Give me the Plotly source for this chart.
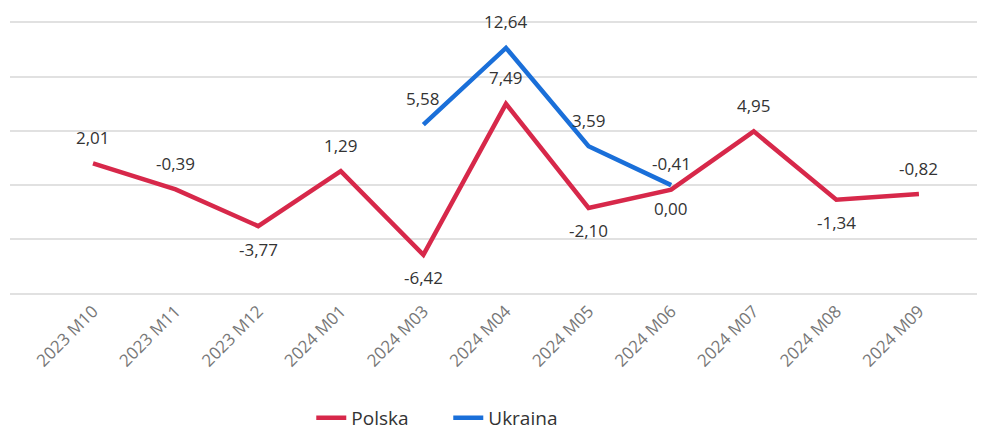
import plotly.graph_objects as go

categories = ["2023 M10", "2023 M11", "2023 M12", "2024 M01", "2024 M03", "2024 M04",
              "2024 M05", "2024 M06", "2024 M07", "2024 M08", "2024 M09"]
polska = [2.01, -0.39, -3.77, 1.29, -6.42, 7.49, -2.10, -0.41, 4.95, -1.34, -0.82]
ukraina = [None, None, None, None, 5.58, 12.64, 3.59, 0.00, None, None, None]
# label placement: 1 = above, -1 = below
polska_pos = [1, 1, -1, 1, -1, 1, -1, 1, 1, -1, 1]
ukraina_pos = [0, 0, 0, 0, 1, 1, 1, -1, 0, 0, 0]

RED = "#D7284A"
BLUE = "#1A6FD9"
FONT = "Open Sans"

fig = go.Figure()
fig.add_trace(go.Scatter(x=categories, y=polska, mode="lines", name="Polska",
                         line=dict(color=RED, width=4.5), connectgaps=False))
fig.add_trace(go.Scatter(x=categories, y=ukraina, mode="lines", name="Ukraina",
                         line=dict(color=BLUE, width=4.5), connectgaps=False))

def fmt(v):
    return f"{v:.2f}".replace(".", ",")

annotations = []
for series, pos in ((polska, polska_pos), (ukraina, ukraina_pos)):
    for c, v, p in zip(categories, series, pos):
        if v is None:
            continue
        annotations.append(dict(x=c, y=v, xref="x", yref="y", text=fmt(v),
                                showarrow=False, yanchor="middle",
                                yshift=26 if p > 0 else -23,
                                font=dict(family=FONT, size=17, color="#333333")))

# page body has an 8px default margin, so the figure is sized to fit the window
fig.update_layout(
    width=977, height=422,
    margin=dict(l=2, r=0, t=11, b=133, autoexpand=False),
    paper_bgcolor="white", plot_bgcolor="white",
    font=dict(family=FONT),
    showlegend=True,
    legend=dict(orientation="h", x=0.309, xanchor="left", y=-0.435, yanchor="middle",
                font=dict(family=FONT, size=19, color="#333333"),
                entrywidth=92, traceorder="normal"),
    annotations=annotations,
)
fig.update_xaxes(type="category", range=[-1.005, 10.8], showgrid=False, showline=False,
                 ticks="", tickangle=-45, automargin=False,
                 tickfont=dict(family=FONT, size=17, color="#777777"))
fig.update_yaxes(range=[-10.3, 15.3], dtick=5, tick0=0, showticklabels=False,
                 showgrid=True, gridcolor="#E1E1E1", gridwidth=1.5, automargin=False,
                 zeroline=False, showline=False, ticks="")

fig.write_html("out.html")
